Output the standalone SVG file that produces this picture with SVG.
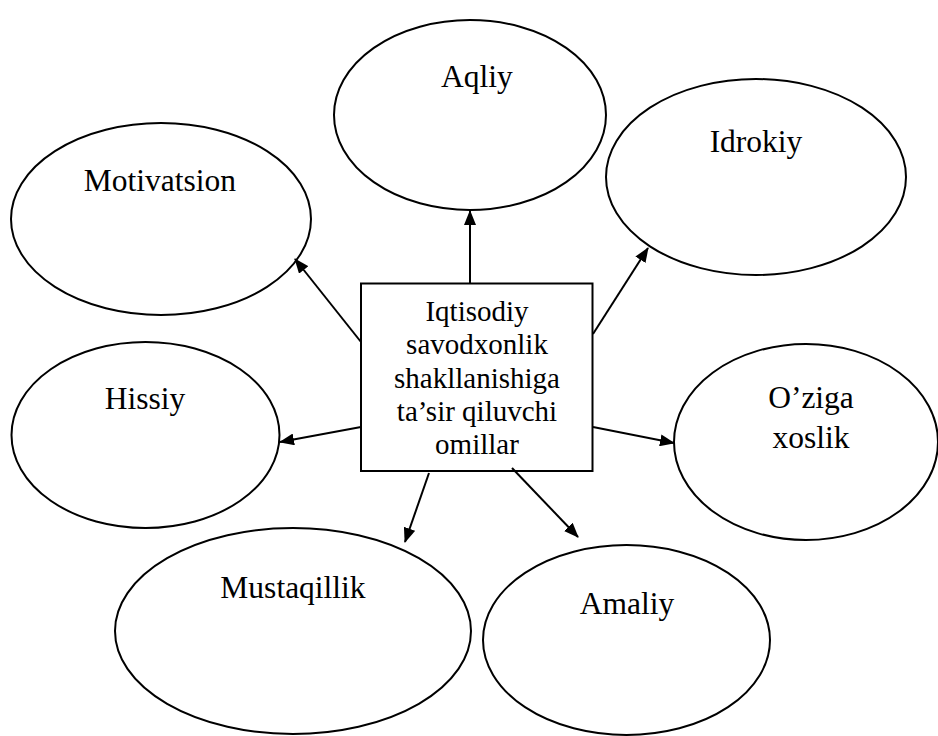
<svg xmlns="http://www.w3.org/2000/svg" width="938" height="736" viewBox="0 0 938 736">
<style>
.shape{fill:#fff;stroke:#000;stroke-width:2}
.lbl{font-family:"Liberation Serif","Times New Roman",serif;font-size:31.5px;fill:#000;text-anchor:middle}
.ctr{font-family:"Liberation Serif","Times New Roman",serif;font-size:29px;fill:#000;text-anchor:middle}
.conn line{stroke:#000;stroke-width:2;marker-end:url(#ah)}
</style>
<defs>
<marker id="ah" viewBox="0 0 15 12" refX="14" refY="6" markerWidth="15" markerHeight="12" markerUnits="userSpaceOnUse" orient="auto">
<path d="M0,0 L15,6 L0,12 z" fill="#000"/>
</marker>
</defs>
<rect width="938" height="736" fill="#fff"/>
<g id="aqliy"><ellipse class="shape" cx="470" cy="115" rx="136" ry="95"/><text class="lbl" x="477" y="87">Aqliy</text></g>
<g id="idrokiy"><ellipse class="shape" cx="756" cy="177" rx="150" ry="98"/><text class="lbl" x="756" y="152">Idrokiy</text></g>
<g id="motivatsion"><ellipse class="shape" cx="161" cy="219" rx="150" ry="96"/><text class="lbl" x="160" y="191">Motivatsion</text></g>
<g id="hissiy"><ellipse class="shape" cx="145.5" cy="435" rx="134" ry="93"/><text class="lbl" x="145" y="409">Hissiy</text></g>
<g id="oziga"><ellipse class="shape" cx="806" cy="442" rx="132" ry="98"/><text class="lbl" x="811" y="408">O’ziga</text><text class="lbl" x="811" y="448">xoslik</text></g>
<g id="mustaqillik"><ellipse class="shape" cx="293" cy="631" rx="178" ry="103"/><text class="lbl" x="293" y="598">Mustaqillik</text></g>
<g id="amaliy"><ellipse class="shape" cx="626.5" cy="640" rx="143.5" ry="95"/><text class="lbl" x="627" y="614">Amaliy</text></g>
<g id="center"><rect class="shape" x="361" y="283.5" width="231.5" height="187.5"/>
<text class="ctr" x="477" y="321">Iqtisodiy</text>
<text class="ctr" x="477" y="354">savodxonlik</text>
<text class="ctr" x="477" y="387.5">shakllanishiga</text>
<text class="ctr" x="477" y="421">ta’sir qiluvchi</text>
<text class="ctr" x="477" y="453.5">omillar</text>
</g>
<g id="connectors" class="conn">
<line x1="470" y1="283" x2="470" y2="211"/>
<line x1="361" y1="342" x2="295" y2="259"/>
<line x1="593" y1="334" x2="648" y2="248"/>
<line x1="361" y1="427" x2="280" y2="442"/>
<line x1="593" y1="427" x2="674" y2="443"/>
<line x1="429" y1="473" x2="405" y2="542"/>
<line x1="512" y1="468" x2="578" y2="537"/>
</g>
</svg>
